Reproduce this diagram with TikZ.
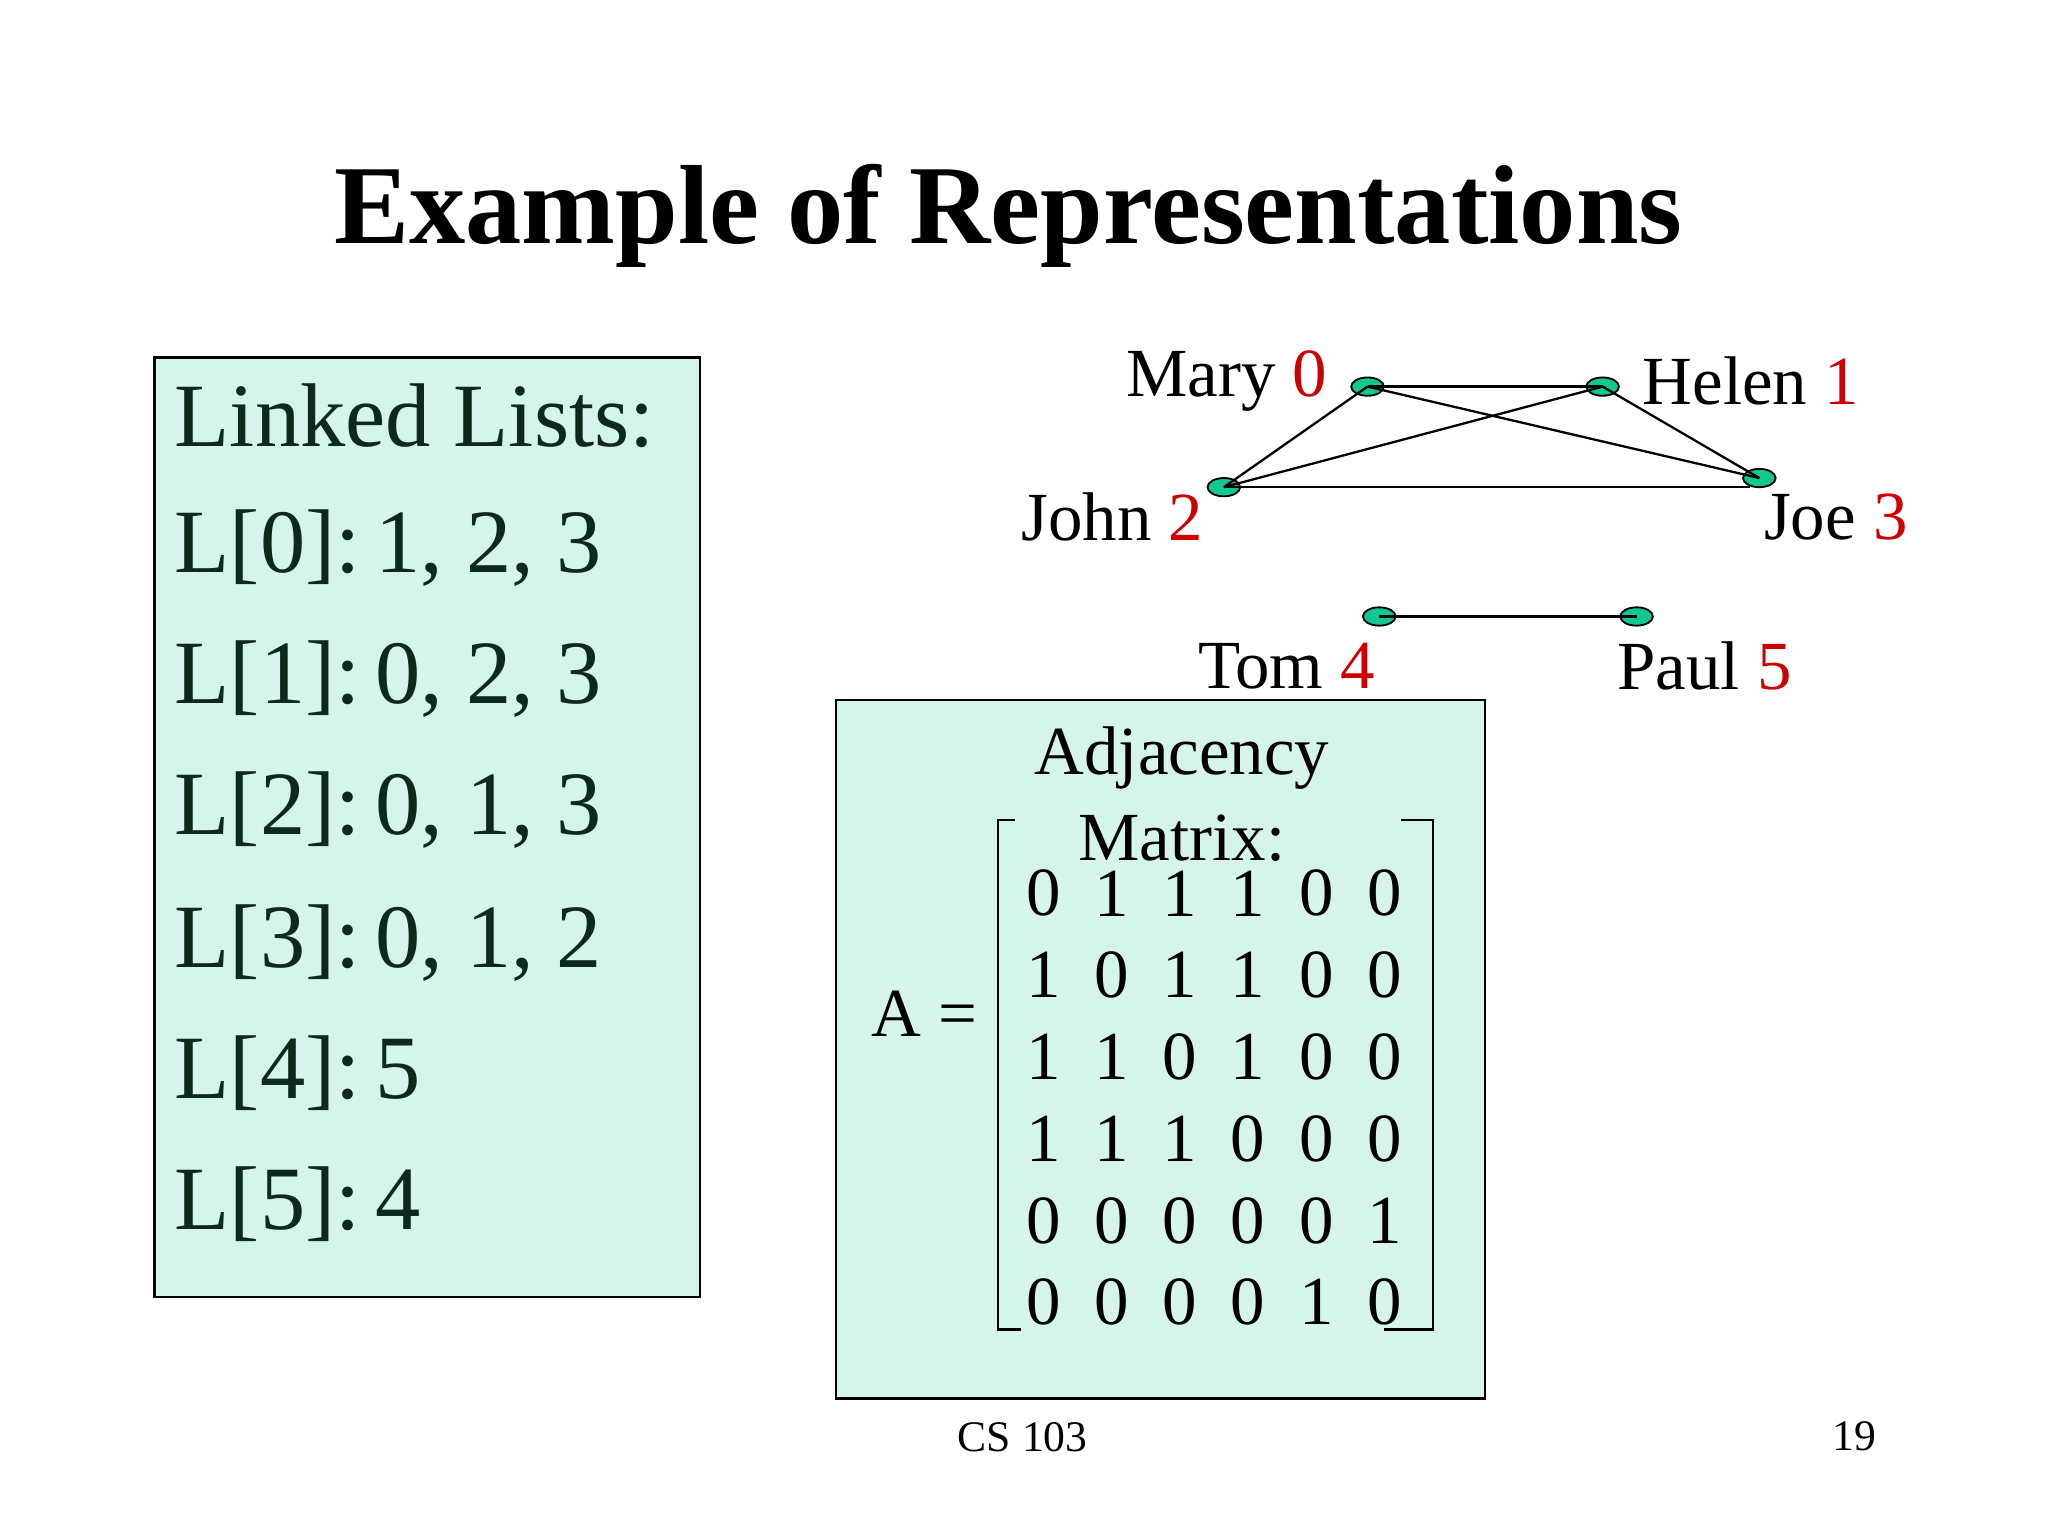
\documentclass[tikz,border=0pt]{standalone}
\usepackage{fontspec}
\setmainfont{Liberation Serif}
\usetikzlibrary{positioning, shapes.geometric}
\definecolor{mint}{HTML}{D5F5EC}
\definecolor{dot}{HTML}{10C890}
\definecolor{ink}{HTML}{0C2A1C}
\definecolor{num}{HTML}{CC0000}
\begin{document}
\begin{tikzpicture}[x=0.01cm, y=-0.01cm,
			panel/.style={draw, fill=mint, line width=0.6pt},
			vertex/.style={ellipse, draw, fill=dot, minimum width=0.25cm, minimum height=0.14cm, inner sep=0pt},
			person/.style={font=\fontsize{15}{17}\selectfont, inner sep=0pt},
			entry/.style={font=\fontsize{19.7}{23}\selectfont, text=ink, anchor=west, inner sep=0pt},
			digit/.style={font=\fontsize{15}{17}\selectfont, inner sep=0pt},
			edge/.style={line width=0.5pt},
			]
			\useasboundingbox (0,0) rectangle (1568,1176);
			
			% Title
			\node (title) at (772,165) {\fontsize{24.5}{28}\selectfont\bfseries Example of Representations};
			
			% Linked lists
			\draw[panel] (118,274) rectangle (536,993);
			\node (head) [entry] at (133,318) {Linked Lists:};
			\foreach \row/\list [count=\i from 0] in {420/{1, 2, 3}, 520/{0, 2, 3}, 620/{0, 1, 3}, 722/{0, 1, 2}, 822/{5}, 922/{4}}
				\node (L\i) [entry] at (133,\row) {L[\i]:\,\list};
			
			% Graph
			\node (mary) [vertex] at (1047,296) {};
			\node (helen) [vertex] at (1227,296) {};
			\node (john) [vertex] at (937,373) {};
			\node (joe) [vertex] at (1347,366) {};
			\node (tom) [vertex] at (1056,472) {};
			\node (paul) [vertex] at (1253,472) {};
			\coordinate (joeend) at (1340,373);
			\draw[edge] (mary.center) -- (helen.center);
			\draw[edge] (mary.center) -- (john.center);
			\draw[edge] (mary.center) -- (joe.center);
			\draw[edge] (helen.center) -- (john.center);
			\draw[edge] (helen.center) -- (joe.center);
			\draw[edge] (john.center) -- (joeend);
			\draw[edge] (tom.center) -- (paul.center);
			\node (lmary) [person, anchor=east] at (1017,292) {Mary \textcolor{num}{0}};
			\node (lhelen) [person, anchor=west] at (1257,292) {Helen \textcolor{num}{1}};
			\node (ljohn) [person, anchor=east] at (922,396) {John \textcolor{num}{2}};
			\node (ljoe) [person, anchor=west] at (1350,396) {Joe \textcolor{num}{3}};
			\node (ltom) [person] at (985,510) {Tom \textcolor{num}{4}};
			\node (lpaul) [person] at (1305,510) {Paul \textcolor{num}{5}};
			
			% Adjacency matrix
			\draw[panel] (640,536) rectangle (1137,1071);
			\node (adj) [person] at (905,580) {Adjacency};
			\node (mat) [person] at (905,642) {Matrix:};
			\node (A) [person] at (708,776) {A =};
			\draw[edge] (777,628) -- (764,628) -- (764,1018) -- (782,1018);
			\draw[edge] (1073,628) -- (1097,628) -- (1097,1018) -- (1060,1018);
			\foreach \row [count=\r from 0] in {{0,1,1,1,0,0},{1,0,1,1,0,0},{1,1,0,1,0,0},{1,1,1,0,0,0},{0,0,0,0,0,1},{0,0,0,0,1,0}}
				\foreach \v [count=\c from 0] in \row
					\node (m\r\c) [digit] at (799+52.2*\c,684+62.6*\r) {\v};
			
			% Footer
			\node (course) [font=\fontsize{9.5}{11}\selectfont] at (783,1100) {CS 103};
			\node (page) [font=\fontsize{9.5}{11}\selectfont] at (1420,1100) {19};
		\end{tikzpicture}
\end{document}
